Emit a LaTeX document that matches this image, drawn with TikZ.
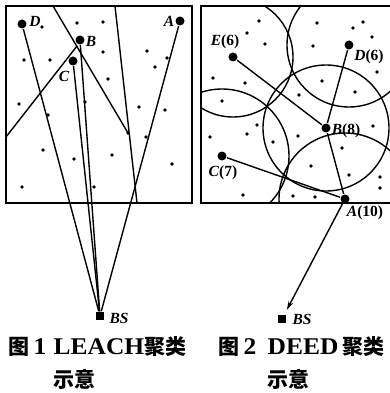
\documentclass[tikz,border=0pt]{standalone}
\usepackage{fontspec}
\setmainfont{Liberation Serif}
\newfontfamily\capfont{Liberation Serif}[FakeStretch=1.06]
\newfontfamily\cjk{Noto Sans CJK SC}
\newcommand{\hz}[1]{{\fontsize{21}{21}\selectfont\cjk #1}}
\usepackage{tikz}
\usetikzlibrary{arrows.meta, positioning}

\begin{document}
\begin{tikzpicture}[x=1pt, y=-1pt, >=Stealth, line width=1.4pt,
  head/.style={circle, fill, inner sep=0pt, minimum size=9pt},
  sink/.style={rectangle, fill, inner sep=0pt, minimum size=8pt},
  lbl/.style={inner sep=0pt, font=\fontsize{15.5}{15.5}\selectfont\bfseries},
  captxt/.style={inner sep=0pt, anchor=west, font=\fontsize{24}{24}\selectfont\capfont\bfseries}]
\useasboundingbox (0,0) rectangle (389,393);

% ---- Fig. 1: LEACH ------------------------------------------------------
\draw (6,6) rectangle (192,203);
\draw (53,6) -- (128,133);
\draw (115,6) -- (137,203);
\draw (6,137) -- (77,46);
\foreach \p in {(42,27),(77,23),(103,22),(24,60),(50,60),(103,52),(147,51),
                (167,58),(155,67),(108,79),(19,104),(48,115),(85,102),(139,107),
                (165,110),(128,133),(146,137),(43,150),(74,159),(112,155),
                (172,164),(22,187),(94,187)}
  \fill \p circle (1.8pt);

\node[head] (D) at (22,24) {};
\node[head] (B) at (80,40) {};
\node[head] (C) at (73,61) {};
\node[head] (A) at (180,21) {};
\node[sink] (BS) at (100,316) {};
\node[lbl] (lD) at (35,21) {\textit{D}};
\node[lbl] (lB) at (91,41) {\textit{B}};
\node[lbl] (lC) at (64,76) {\textit{C}};
\node[lbl] (lA) at (169,21) {\textit{A}};
\node[lbl] (lBS) at (119,318) {\textit{BS}};
\foreach \n in {D,B,C,A} \draw (\n) -- (BS);

% ---- Fig. 2: DEED -------------------------------------------------------
\draw (201,6) rectangle (392,203);
\foreach \p in {(259,21),(247,33),(265,44),(317,23),(353,28),(363,22),(372,37),
                (313,46),(377,72),(322,81),(355,92),(299,95),(213,78),(245,83),
                (222,101),(257,125),(247,134),(210,137),(273,142),(298,136),
                (342,148),(373,126),(311,166),(349,175),(380,177),(380,188),
                (243,195),(293,196),(315,197)}
  \fill \p circle (1.8pt);

\node[head] (E2) at (233,57) {};
\node[head] (D2) at (349,45) {};
\node[head] (B2) at (326,128) {};
\node[head] (C2) at (222,156) {};
\node[head] (A2) at (345,199) {};
\node[sink] (BS2) at (282,319) {};

\begin{scope}
  \clip (201,6) rectangle (392,203);
  \draw (E2.center) circle (60pt);
  \draw (D2.center) circle (62pt);
  \draw (B2.center) circle (63pt);
  \draw (C2.center) circle (67pt);
  \draw (A2.center) circle (66pt);
\end{scope}

\draw (E2) -- (B2);
\draw (D2) -- (B2);
\draw (B2) -- (A2);
\draw (C2) -- (A2);
\draw[-{Stealth[length=9pt, width=5pt]}, shorten >=5pt] (A2) -- (BS2);

\node[lbl] (lE2) at (225,42) {\textit{E}(6)};
\node[lbl] (lD2) at (369,57) {\textit{D}(6)};
\node[lbl] (lB2) at (346,131) {\textit{B}(8)};
\node[lbl] (lC2) at (223,173) {\textit{C}(7)};
\node[lbl] (lA2) at (365,213) {\textit{A}(10)};
\node[lbl] (lBS2) at (302,319) {\textit{BS}};

% ---- Captions -----------------------------------------------------------
\node[captxt] (cap1) at (8,347) {\hz{图}\,1};
\node[captxt] (cap1b) at (53,347) {LEACH\hz{聚类}};
\node[captxt] (cap1c) at (53,379) {\hz{示意}};
\node[captxt] (cap2) at (218,347) {\hz{图}\,2};
\node[captxt] (cap2b) at (267,347) {DEED\,\hz{聚类}};
\node[captxt] (cap2c) at (267,379) {\hz{示意}};

\end{tikzpicture}
\end{document}
